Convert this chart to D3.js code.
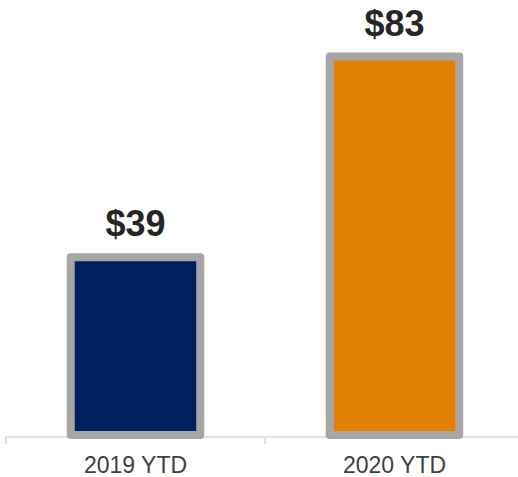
<!DOCTYPE html>
<html>
<head>
<meta charset="utf-8">
<script src="https://cdn.jsdelivr.net/npm/d3@7"></script>
<style>
  html, body { margin: 0; padding: 0; background: #fff; }
  svg { display: block; font-family: "Liberation Sans", Arial, sans-serif; }
</style>
</head>
<body>
<div id="chart"></div>
<script>
// data
var categories = ["2019 YTD", "2020 YTD"];
var values = [39, 83];
var valueLabels = ["$39", "$83"];
var barColors = ["#002060", "#E38006"];

var W = 518, H = 477;

var svg = d3.select("#chart").append("svg")
    .attr("width", W)
    .attr("height", H);

// scales
var x = d3.scaleBand()
    .domain(categories)
    .range([6, 524])
    .paddingInner(0.5)
    .paddingOuter(0.25);

var y = d3.scaleLinear()
    .domain([0, 83])
    .range([435, 56.5]);

// axis line + category separators
var axisY = 437;
var x0 = x.range()[0];
svg.append("line")
    .attr("x1", x0).attr("x2", x.range()[1])
    .attr("y1", axisY).attr("y2", axisY)
    .attr("stroke", "#d9d9d9")
    .attr("stroke-width", 1.5);

d3.range(categories.length + 1).forEach(function(i) {
    var tx = x0 + i * x.step();
    svg.append("line")
        .attr("x1", tx).attr("x2", tx)
        .attr("y1", axisY).attr("y2", axisY + 7)
        .attr("stroke", "#d9d9d9")
        .attr("stroke-width", 1.5);
});

// bars
svg.selectAll("rect.bar")
    .data(values)
    .enter().append("rect")
    .attr("class", "bar")
    .attr("x", function(d, i) { return x(categories[i]); })
    .attr("y", function(d) { return y(d); })
    .attr("width", x.bandwidth())
    .attr("height", function(d) { return y(0) - y(d); })
    .attr("fill", function(d, i) { return barColors[i]; })
    .attr("stroke", "#a6a6a6")
    .attr("stroke-width", 8)
    .attr("stroke-linejoin", "round");

// value labels
svg.selectAll("text.val")
    .data(values)
    .enter().append("text")
    .attr("class", "val")
    .attr("x", function(d, i) { return x(categories[i]) + x.bandwidth() / 2; })
    .attr("y", function(d) { return y(d) - 21; })
    .attr("text-anchor", "middle")
    .attr("font-size", 36)
    .attr("font-weight", "bold")
    .attr("fill", "#262626")
    .text(function(d, i) { return valueLabels[i]; });

// category labels
svg.selectAll("text.cat")
    .data(categories)
    .enter().append("text")
    .attr("class", "cat")
    .attr("x", function(d) { return x(d) + x.bandwidth() / 2; })
    .attr("y", 473)
    .attr("text-anchor", "middle")
    .attr("font-size", 23)
    .attr("fill", "#404040")
    .text(function(d) { return d; });
</script>
</body>
</html>
